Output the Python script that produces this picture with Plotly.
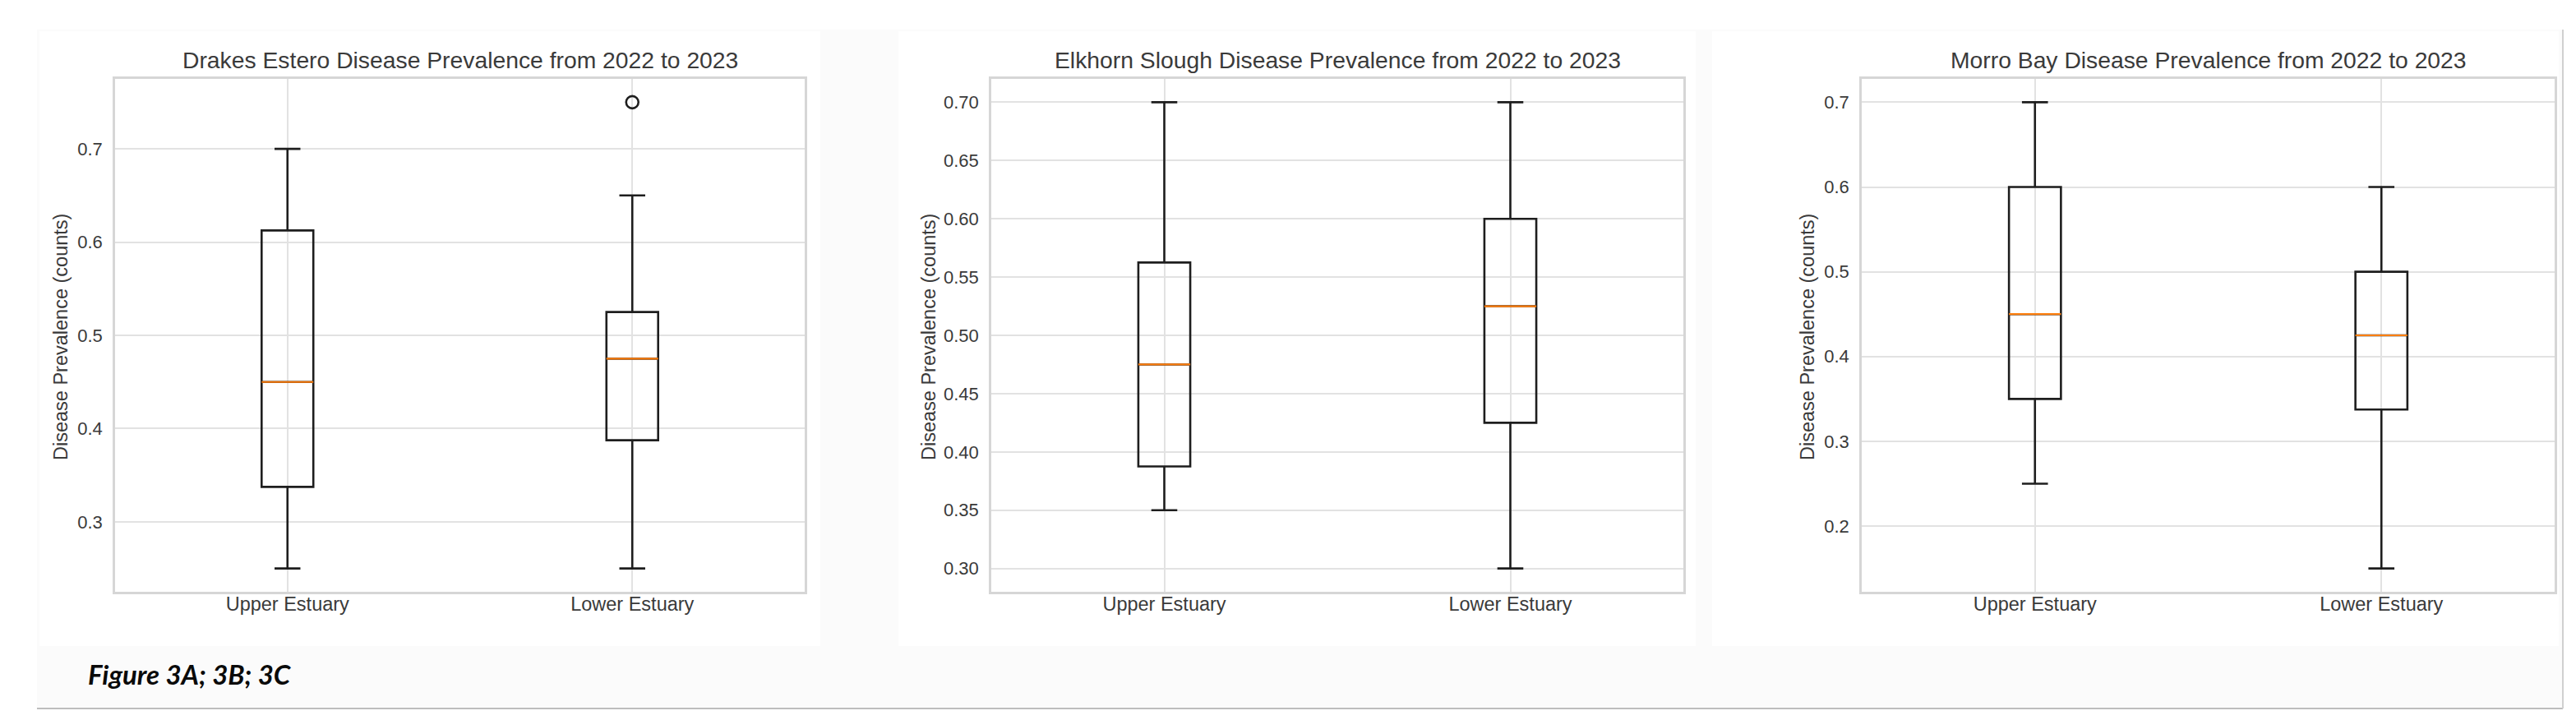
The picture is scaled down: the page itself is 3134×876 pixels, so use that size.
import plotly.graph_objects as go

W, H = 3134, 876

# ---------------- data ----------------
categories = ["Upper Estuary", "Lower Estuary"]
positions = [1, 2]

panel_titles = [
    "Drakes Estero Disease Prevalence from 2022 to 2023",
    "Elkhorn Slough Disease Prevalence from 2022 to 2023",
    "Morro Bay Disease Prevalence from 2022 to 2023",
]
y_label = "Disease Prevalence (counts)"
caption = "Figure 3A; 3B; 3C"

# Drakes Estero
drakes_lower_whisker = [0.25, 0.25]
drakes_q1 = [0.3375, 0.3875]
drakes_median = [0.45, 0.475]
drakes_q3 = [0.6125, 0.525]
drakes_upper_whisker = [0.70, 0.65]
drakes_outliers = [[], [0.75]]

# Elkhorn Slough
elkhorn_lower_whisker = [0.35, 0.30]
elkhorn_q1 = [0.3875, 0.425]
elkhorn_median = [0.475, 0.525]
elkhorn_q3 = [0.5625, 0.60]
elkhorn_upper_whisker = [0.70, 0.70]
elkhorn_outliers = [[], []]

# Morro Bay
morro_lower_whisker = [0.25, 0.15]
morro_q1 = [0.35, 0.3375]
morro_median = [0.45, 0.425]
morro_q3 = [0.60, 0.50]
morro_upper_whisker = [0.70, 0.60]
morro_outliers = [[], []]

# tick labels
drakes_ticks = [0.3, 0.4, 0.5, 0.6, 0.7]
drakes_ticktext = ["0.3", "0.4", "0.5", "0.6", "0.7"]
elkhorn_ticks = [0.30, 0.35, 0.40, 0.45, 0.50, 0.55, 0.60, 0.65, 0.70]
elkhorn_ticktext = ["0.30", "0.35", "0.40", "0.45", "0.50", "0.55", "0.60", "0.65", "0.70"]
morro_ticks = [0.2, 0.3, 0.4, 0.5, 0.6, 0.7]
morro_ticktext = ["0.2", "0.3", "0.4", "0.5", "0.6", "0.7"]

panels = [
    dict(lw=drakes_lower_whisker, q1=drakes_q1, med=drakes_median, q3=drakes_q3,
         uw=drakes_upper_whisker, out=drakes_outliers, ticks=drakes_ticks, ticktext=drakes_ticktext),
    dict(lw=elkhorn_lower_whisker, q1=elkhorn_q1, med=elkhorn_median, q3=elkhorn_q3,
         uw=elkhorn_upper_whisker, out=elkhorn_outliers, ticks=elkhorn_ticks, ticktext=elkhorn_ticktext),
    dict(lw=morro_lower_whisker, q1=morro_q1, med=morro_median, q3=morro_q3,
         uw=morro_upper_whisker, out=morro_outliers, ticks=morro_ticks, ticktext=morro_ticktext),
]

# ---------------- layout geometry (pixels) ----------------
axes_px = [(132, 971), (1198, 2040), (2257, 3100)]
ax_top, ax_bottom = 88, 712
ylabel_x_px = [66, 1122, 2191]

FONT = "Liberation Sans, Arial, sans-serif"
TXT = "#3a3a3a"
GRID = "#e2e2e2"
FRAME = "#d6d6d6"
BOXC = "#1e1e1e"
MEDC = "#ff7f0e"

fig = go.Figure()
layout = dict(
    width=W, height=H,
    margin=dict(l=0, r=0, t=0, b=0),
    paper_bgcolor="white",
    plot_bgcolor="white",
    showlegend=False,
    boxmode="overlay",
    font=dict(family=FONT, color=TXT, size=22),
)

annotations = []
shapes = []

# page background and panels
shapes.append(dict(type="rect", xref="paper", yref="paper", layer="below",
                   x0=37 / W, x1=3110 / W, y0=1 - 854 / H, y1=1 - 28 / H,
                   fillcolor="#fbfbfb", line=dict(width=0)))
for (a, b) in [(40, 990), (1085, 2055), (2075, 3105)]:
    shapes.append(dict(type="rect", xref="paper", yref="paper", layer="below",
                       x0=a / W, x1=b / W, y0=1 - 778 / H, y1=1 - 30 / H,
                       fillcolor="white", line=dict(width=0)))
shapes.append(dict(type="line", xref="paper", yref="paper",
                   x0=37 / W, x1=3110 / W, y0=1 - 854 / H, y1=1 - 854 / H,
                   line=dict(color="#bdbdbd", width=2)))
shapes.append(dict(type="line", xref="paper", yref="paper",
                   x0=3110 / W, x1=3110 / W, y0=1 - 854 / H, y1=1 - 28 / H,
                   line=dict(color="#d0d0d0", width=2)))

for i, p in enumerate(panels):
    n = "" if i == 0 else str(i + 1)
    xa, ya = "x" + n, "y" + n
    # data range with matplotlib-like 5% margins
    lo = min(min(p["lw"]), min([v for o in p["out"] for v in o] or [min(p["lw"])]))
    hi = max(max(p["uw"]), max([v for o in p["out"] for v in o] or [max(p["uw"])]))
    pad = (hi - lo) * 0.05

    fig.add_trace(go.Box(
        x=positions, q1=p["q1"], median=p["med"], q3=p["q3"],
        lowerfence=p["lw"], upperfence=p["uw"],
        width=0.15, whiskerwidth=0.5, boxpoints=False,
        line=dict(color=BOXC, width=2.6), fillcolor="rgba(0,0,0,0)",
        xaxis=xa, yaxis=ya, hoverinfo="skip",
    ))
    # orange median line
    fig.add_trace(go.Box(
        x=positions, q1=p["med"], median=p["med"], q3=p["med"],
        lowerfence=p["med"], upperfence=p["med"],
        width=0.15, whiskerwidth=0, boxpoints=False,
        line=dict(color=MEDC, width=2.2), fillcolor="rgba(0,0,0,0)",
        xaxis=xa, yaxis=ya, hoverinfo="skip",
    ))
    ox, oy = [], []
    for pos, vals in zip(positions, p["out"]):
        for v in vals:
            ox.append(pos)
            oy.append(v)
    if ox:
        fig.add_trace(go.Scatter(
            x=ox, y=oy, mode="markers",
            marker=dict(symbol="circle-open", size=15, color=BOXC, line=dict(width=2.6)),
            xaxis=xa, yaxis=ya, hoverinfo="skip",
        ))

    x0p, x1p = axes_px[i]
    layout["xaxis" + n] = dict(
        domain=[x0p / W, x1p / W], anchor=ya, range=[0.5, 2.5],
        tickmode="array", tickvals=positions, ticktext=categories,
        showgrid=True, gridcolor=GRID, gridwidth=2,
        showline=True, mirror=True, linecolor=FRAME, linewidth=2.5,
        zeroline=False, ticks="", ticklabelstandoff=-8,
        tickfont=dict(family=FONT, size=23.5, color=TXT), fixedrange=True,
    )
    layout["yaxis" + n] = dict(
        domain=[1 - ax_bottom / H, 1 - ax_top / H], anchor=xa,
        range=[lo - pad, hi + pad],
        tickmode="array", tickvals=p["ticks"], ticktext=p["ticktext"],
        showgrid=True, gridcolor=GRID, gridwidth=2,
        showline=True, mirror=True, linecolor=FRAME, linewidth=2.5,
        zeroline=False, ticks="", ticklabelstandoff=8,
        tickfont=dict(family=FONT, size=22, color=TXT), fixedrange=True,
    )
    annotations.append(dict(
        text=panel_titles[i], xref="paper", yref="paper",
        x=(x0p + x1p) / 2 / W, y=1 - 65 / H, xanchor="center", yanchor="middle",
        showarrow=False, font=dict(family=FONT, size=28.3, color=TXT),
    ))
    annotations.append(dict(
        text=y_label, xref="paper", yref="paper", textangle=-90,
        x=ylabel_x_px[i] / W, y=1 - 402 / H, xanchor="center", yanchor="middle",
        showarrow=False, font=dict(family=FONT, size=23.5, color=TXT),
    ))

annotations.append(dict(
    text="<b><i>" + caption + "</i></b>", xref="paper", yref="paper",
    x=97 / W, y=1 - 812 / H, xanchor="left", yanchor="middle",
    showarrow=False, font=dict(family="Lato, Open Sans, sans-serif", size=33, color="#0a0a0a"),
))

layout["annotations"] = annotations
layout["shapes"] = shapes
fig.update_layout(**layout)
fig.write_html("out.html")
